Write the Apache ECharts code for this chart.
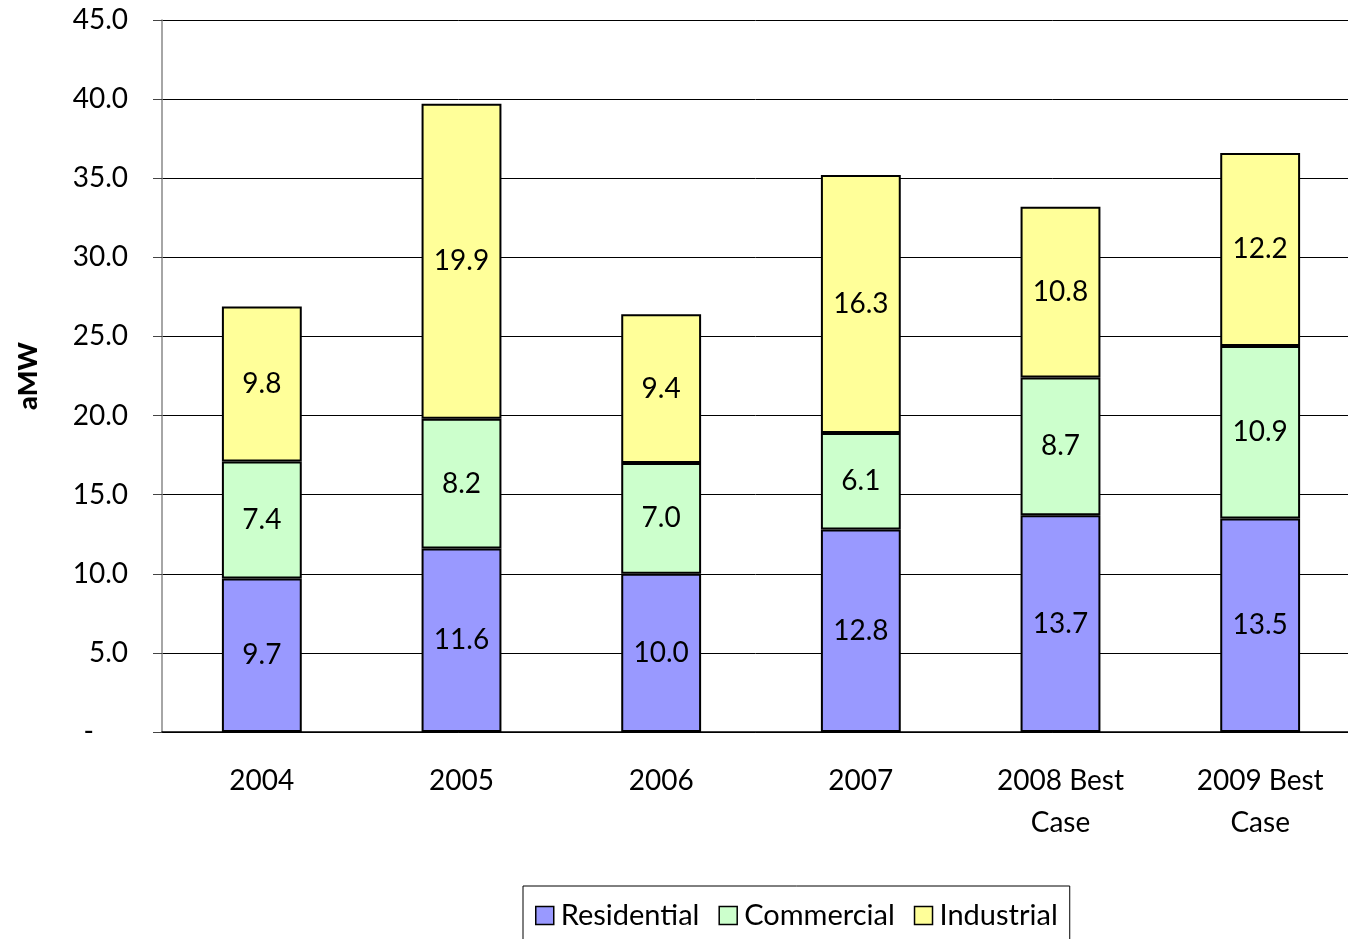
<!DOCTYPE html>
<html>
<head>
<meta charset="utf-8">
<script src="https://cdn.jsdelivr.net/npm/echarts@6/dist/echarts.min.js"></script>
<style>
  html, body { margin: 0; padding: 0; background: #fff; }
  #container { width: 1348px; height: 939px; }
</style>
</head>
<body>
<div id="container"></div>
<script>
var categories = ['2004', '2005', '2006', '2007', '2008 Best\nCase', '2009 Best\nCase'];
var residential = [9.7, 11.6, 10.0, 12.8, 13.7, 13.5];
var commercial = [7.4, 8.2, 7.0, 6.1, 8.7, 10.9];
var industrial = [9.8, 19.9, 9.4, 16.3, 10.8, 12.2];

var FONT = 'Lato';

function barSeries(name, data, color) {
    return {
        name: name,
        type: 'bar',
        stack: 'total',
        barWidth: '40%',
        data: data,
        itemStyle: { color: color, borderColor: '#000', borderWidth: 2 },
        label: {
            show: true,
            position: 'inside',
            color: '#000',
            fontFamily: FONT,
            fontSize: 28,
            formatter: function (p) { return p.value.toFixed(1); }
        }
    };
}

// 基于准备好的dom，初始化echarts实例
var myChart = echarts.init(document.getElementById('container'));
myChart.setOption({
    animation: false,
    textStyle: { fontFamily: FONT },
    grid: { left: 162, right: -12, top: 20, bottom: 207, outerBoundsMode: 'none', containLabel: false },
    legend: {
        left: 523,
        top: 886,
        padding: [15, 12, 40, 12],
        borderColor: '#000',
        borderWidth: 1,
        itemWidth: 18,
        itemHeight: 18,
        itemGap: 19,
        icon: 'rect',
        itemStyle: { borderWidth: 1.5 },
        textStyle: { fontFamily: FONT, fontSize: 29, color: '#000', padding: [0, 0, 0, 2] },
        data: ['Residential', 'Commercial', 'Industrial']
    },
    xAxis: {
        type: 'category',
        data: categories,
        axisLine: { lineStyle: { color: '#000', width: 1.5 } },
        axisTick: { length: 10, lineStyle: { color: '#000' } },
        axisLabel: { color: '#000', fontSize: 28, margin: 28, lineHeight: 42, fontFamily: FONT }
    },
    yAxis: {
        type: 'value',
        min: 0,
        max: 45,
        interval: 5,
        name: 'aMW',
        nameLocation: 'middle',
        nameGap: 120,
        nameTextStyle: { fontSize: 27, fontWeight: 900, color: '#000', fontFamily: FONT },
        axisLine: { show: true, lineStyle: { color: '#888', width: 1.5 } },
        axisTick: { show: true, length: 9, lineStyle: { color: '#444' } },
        splitLine: { lineStyle: { color: '#000', width: 1 } },
        axisLabel: {
            color: '#000',
            fontSize: 28,
            margin: 34,
            fontFamily: FONT,
            formatter: function (v) { return v === 0 ? '{dash|-}' : v.toFixed(1); },
            rich: { dash: { fontSize: 28, color: '#000', padding: [0, 34, 0, 0] } }
        }
    },
    series: [
        barSeries('Residential', residential, '#9999FF'),
        barSeries('Commercial', commercial, '#CCFFCC'),
        barSeries('Industrial', industrial, '#FFFF99')
    ]
});
</script>
</body>
</html>
